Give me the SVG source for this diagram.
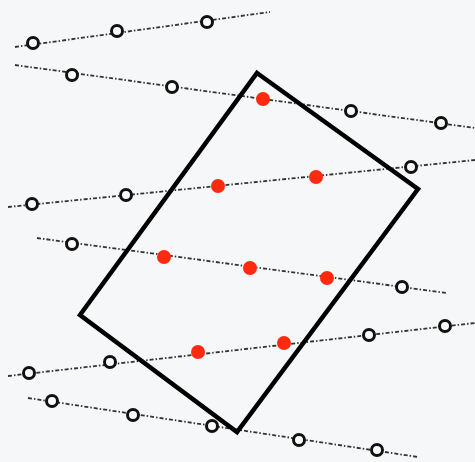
<svg xmlns="http://www.w3.org/2000/svg" width="475" height="462" viewBox="0 0 475 462">
<style>
.ln{fill:none;stroke:#333;stroke-width:1.8;stroke-dasharray:4 2 1.5 2}
.o{fill:#fafafa;stroke:#111;stroke-width:3}
.r{fill:#ff2a10}
.box{fill:none;stroke:#000;stroke-width:4.5;stroke-linejoin:miter}
</style>
<rect width="475" height="462" fill="#f6f7f9"/>
<g id="connectors">
<path class="ln" d="M15,47 L270,12"/>
<path class="ln" d="M15,65 L475,128"/>
<path class="ln" d="M8,207 L475,160"/>
<path class="ln" d="M37,238 L447,293"/>
<path class="ln" d="M8,376 L475,323"/>
<path class="ln" d="M28,398 L418,457"/>
</g>
<g id="frame"><polygon class="box" points="257,73 418,189 237,432 80,315"/></g>
<g id="n1"><circle class="o" cx="33" cy="43" r="5.5"/></g>
<g id="n2"><circle class="o" cx="117" cy="31" r="5.5"/></g>
<g id="n3"><circle class="o" cx="207" cy="22" r="5.5"/></g>
<g id="n4"><circle class="o" cx="72" cy="75" r="5.5"/></g>
<g id="n5"><circle class="o" cx="172" cy="87" r="5.5"/></g>
<g id="n6"><circle class="r" cx="263" cy="99" r="7"/></g>
<g id="n7"><circle class="o" cx="351" cy="111" r="5.5"/></g>
<g id="n8"><circle class="o" cx="441" cy="123" r="5.5"/></g>
<g id="n9"><circle class="o" cx="32" cy="204" r="5.5"/></g>
<g id="n10"><circle class="o" cx="126" cy="195" r="5.5"/></g>
<g id="n11"><circle class="r" cx="218" cy="186" r="7"/></g>
<g id="n12"><circle class="r" cx="316" cy="177" r="7"/></g>
<g id="n13"><circle class="o" cx="411" cy="167" r="5.5"/></g>
<g id="n14"><circle class="o" cx="72" cy="244" r="5.5"/></g>
<g id="n15"><circle class="r" cx="164" cy="257" r="7"/></g>
<g id="n16"><circle class="r" cx="250" cy="268" r="7"/></g>
<g id="n17"><circle class="r" cx="327" cy="278" r="7"/></g>
<g id="n18"><circle class="o" cx="402" cy="287" r="5.5"/></g>
<g id="n19"><circle class="o" cx="29" cy="373" r="5.5"/></g>
<g id="n20"><circle class="o" cx="110" cy="362" r="5.5"/></g>
<g id="n21"><circle class="r" cx="198" cy="352" r="7"/></g>
<g id="n22"><circle class="r" cx="284" cy="343" r="7"/></g>
<g id="n23"><circle class="o" cx="369" cy="335" r="5.5"/></g>
<g id="n24"><circle class="o" cx="445" cy="326" r="5.5"/></g>
<g id="n25"><circle class="o" cx="52" cy="401" r="5.5"/></g>
<g id="n26"><circle class="o" cx="133" cy="415" r="5.5"/></g>
<g id="n27"><circle class="o" cx="212" cy="426" r="5.5"/></g>
<g id="n28"><circle class="o" cx="299" cy="440" r="5.5"/></g>
<g id="n29"><circle class="o" cx="377" cy="450" r="5.5"/></g>
</svg>
